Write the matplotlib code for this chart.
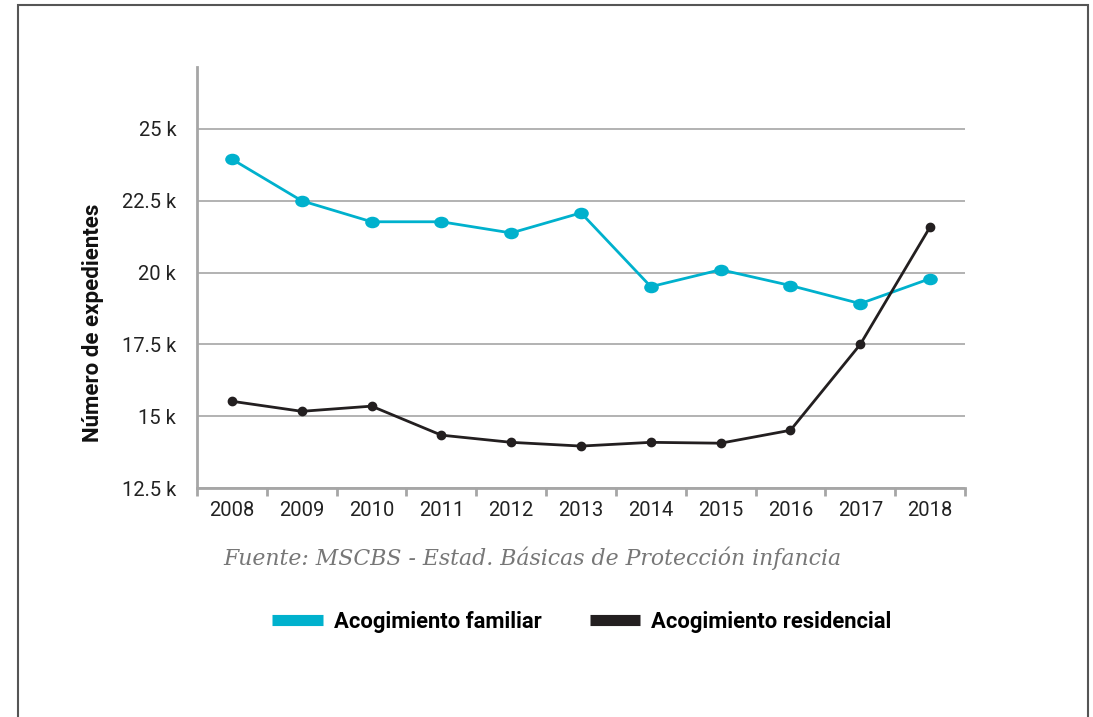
import matplotlib
matplotlib.use('Agg')
import matplotlib.pyplot as plt
from matplotlib.lines import Line2D
from matplotlib.patches import Rectangle
from matplotlib.path import Path
from matplotlib.transforms import Affine2D
from matplotlib.ticker import FuncFormatter

years = ['2008', '2009', '2010', '2011', '2012', '2013', '2014', '2015', '2016', '2017', '2018']
familiar = [23950, 22500, 21770, 21770, 21380, 22080, 19510, 20100, 19550, 18920, 19790]
residencial = [15520, 15170, 15350, 14340, 14090, 13960, 14090, 14060, 14510, 17500, 21590]
y_ticks = [12500, 15000, 17500, 20000, 22500, 25000]

cyan = '#00b1cd'
black = '#231f20'
grey = '#a6a6a6'

plt.rcParams['font.family'] = ['Roboto', 'DejaVu Sans']

fig = plt.figure(figsize=(10.93, 7.17), dpi=100)
ax = fig.add_axes([197 / 1093, 1 - 488 / 717, (965 - 197) / 1093, (488 - 67) / 717])

# slightly flattened dots like the original
oval = Path.unit_circle().transformed(Affine2D().scale(1.3, 1))

x = list(range(len(years)))
ax.plot(x, familiar, color=cyan, lw=2, marker=oval, markersize=9.5, zorder=3)
ax.plot(x, residencial, color=black, lw=2, marker='o', markersize=6, zorder=3)

ax.set_xlim(-0.5, len(years) - 0.5)
ax.set_ylim(12500, 12500 + (488 - 67) / 71.8 * 2500)
ax.set_yticks(y_ticks)
ax.yaxis.set_major_formatter(FuncFormatter(lambda v, p: '{:g} k'.format(v / 1000)))
ax.grid(axis='y', color=grey, lw=1.2)
ax.set_axisbelow(True)

ax.set_xticks(x)
ax.set_xticklabels(years)
ax.set_xticks([i - 0.5 for i in range(len(years) + 1)], minor=True)
ax.tick_params(axis='x', which='major', length=0, pad=9, labelsize=14.5, labelcolor='#222222')
ax.tick_params(axis='x', which='minor', length=6, width=2, color=grey)
ax.tick_params(axis='y', length=0, pad=15, labelsize=14.5, labelcolor='#222222')

for s in ['top', 'right']:
    ax.spines[s].set_visible(False)
for s in ['left', 'bottom']:
    ax.spines[s].set_color(grey)
    ax.spines[s].set_linewidth(2)

ax.set_ylabel('Número de expedientes', fontsize=16, fontweight='bold', color='#111111')
ax.yaxis.set_label_coords(-0.121, 0.392)

fig.text(532 / 1093, 1 - 558 / 717, 'Fuente: MSCBS - Estad. Básicas de Protección infancia',
         family='DejaVu Serif', style='italic', fontsize=15.8, color='#777777', ha='center', va='center')

handles = [Line2D([], [], color=cyan, lw=8, solid_capstyle='butt'),
           Line2D([], [], color=black, lw=8, solid_capstyle='butt')]
fig.legend(handles, ['Acogimiento familiar', 'Acogimiento residencial'], ncol=2, frameon=False,
           loc='center', bbox_to_anchor=(582 / 1093, 1 - 622 / 717), handlelength=2.3,
           handletextpad=0.5, columnspacing=2.2, prop={'weight': 'bold', 'size': 15.8})

fig.patches.append(Rectangle((18 / 1093, -0.1), (1088 - 18) / 1093, 1.1 - 5 / 717, transform=fig.transFigure,
                             fill=False, edgecolor='#555555', lw=1.5))

fig.savefig('out.png', dpi=100, facecolor='white')
